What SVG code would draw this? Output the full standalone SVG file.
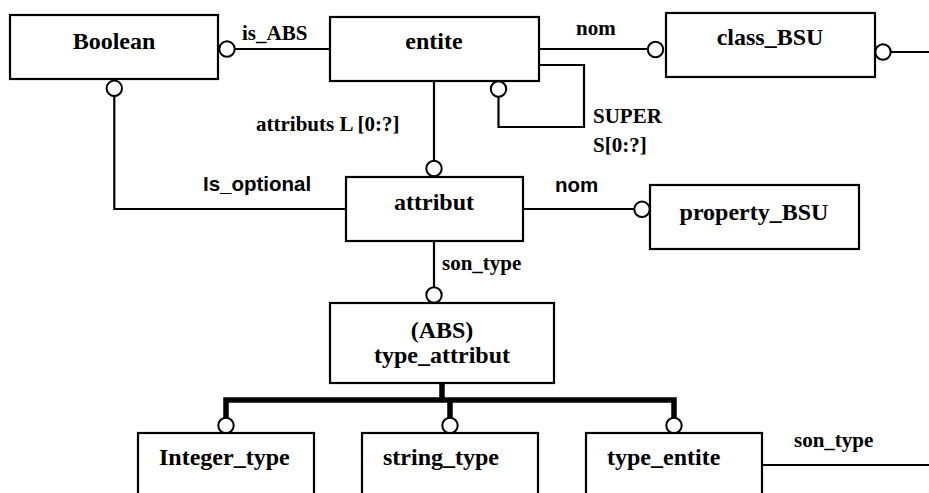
<svg xmlns="http://www.w3.org/2000/svg" width="929" height="493" viewBox="0 0 929 493">
<style>
.box{fill:#fff;stroke:#000;stroke-width:2.2}
.nt{font-family:"Liberation Serif","Times New Roman",serif;font-weight:bold;font-size:24px;fill:#000}
.lb{font-family:"Liberation Serif","Times New Roman",serif;font-weight:bold;font-size:21px;fill:#000}
.ls{font-family:"Liberation Sans",Arial,sans-serif;font-weight:bold;font-size:20.5px;fill:#000}
.ln{fill:none;stroke:#000;stroke-width:2.2}
.th{fill:none;stroke:#000;stroke-width:5.5}
.c{fill:#fff;stroke:#000;stroke-width:2}
</style>
<rect width="929" height="493" fill="#fff"/>
<g id="connectors">
  <path class="ln" d="M235,49 H330"/>
  <path class="ln" d="M539,49 H647"/>
  <path class="ln" d="M539,65 H584 V127 H498.5 V97"/>
  <path class="ln" d="M891,52 H929"/>
  <path class="ln" d="M434,81 V160"/>
  <path class="ln" d="M114.3,96 V209 H346"/>
  <path class="ln" d="M523,209 H634"/>
  <path class="ln" d="M434,241 V287"/>
  <path class="th" d="M442,383 V400"/>
  <path class="th" d="M226,418 V400 H674 V418"/>
  <path class="th" d="M450,400 V418"/>
  <path class="ln" d="M762,465 H929"/>
  <circle class="c" cx="227" cy="49" r="7.7"/>
  <circle class="c" cx="655.5" cy="49.5" r="7.7"/>
  <circle class="c" cx="498.5" cy="89" r="7.7"/>
  <circle class="c" cx="883" cy="52" r="7.7"/>
  <circle class="c" cx="114.3" cy="88.3" r="7.7"/>
  <circle class="c" cx="434" cy="168.5" r="7.7"/>
  <circle class="c" cx="642" cy="209.3" r="7.7"/>
  <circle class="c" cx="434" cy="295" r="7.7"/>
  <circle class="c" cx="226" cy="425.5" r="7.7"/>
  <circle class="c" cx="450" cy="425.5" r="7.7"/>
  <circle class="c" cx="674" cy="425.5" r="7.7"/>
  <text class="lb" x="242" y="40">is_ABS</text>
  <text class="lb" x="576" y="35">nom</text>
  <text class="lb" x="593" y="123">SUPER</text>
  <text class="lb" x="593" y="151.5">S[0:?]</text>
  <text class="lb" x="256" y="131">attributs L [0:?]</text>
  <text class="ls" x="203" y="191">Is_optional</text>
  <text class="ls" x="555" y="192">nom</text>
  <text class="lb" x="442" y="270">son_type</text>
  <text class="lb" x="794" y="447">son_type</text>
</g>
<g id="Boolean">
  <rect class="box" x="10" y="15" width="208" height="64"/>
  <text class="nt" x="114" y="48.5" text-anchor="middle">Boolean</text>
</g>
<g id="entite">
  <rect class="box" x="330" y="17" width="209" height="64"/>
  <text class="nt" x="434" y="49" text-anchor="middle">entite</text>
</g>
<g id="class_BSU">
  <rect class="box" x="666" y="13" width="209" height="64"/>
  <text class="nt" x="770" y="45" text-anchor="middle">class_BSU</text>
</g>
<g id="attribut">
  <rect class="box" x="346" y="177" width="177" height="64"/>
  <text class="nt" x="434" y="210" text-anchor="middle">attribut</text>
</g>
<g id="property_BSU">
  <rect class="box" x="650" y="185" width="209" height="64"/>
  <text class="nt" x="754" y="220" text-anchor="middle">property_BSU</text>
</g>
<g id="type_attribut">
  <rect class="box" x="330" y="303" width="224" height="80"/>
  <text class="nt" x="442" y="338" text-anchor="middle">(ABS)</text>
  <text class="nt" x="442" y="363" text-anchor="middle">type_attribut</text>
</g>
<g id="Integer_type">
  <rect class="box" x="138" y="433" width="176" height="70"/>
  <text class="nt" x="159" y="465">Integer_type</text>
</g>
<g id="string_type">
  <rect class="box" x="362" y="433" width="176" height="70"/>
  <text class="nt" x="383" y="465">string_type</text>
</g>
<g id="type_entite">
  <rect class="box" x="586" y="433" width="176" height="70"/>
  <text class="nt" x="607" y="465">type_entite</text>
</g>
</svg>
